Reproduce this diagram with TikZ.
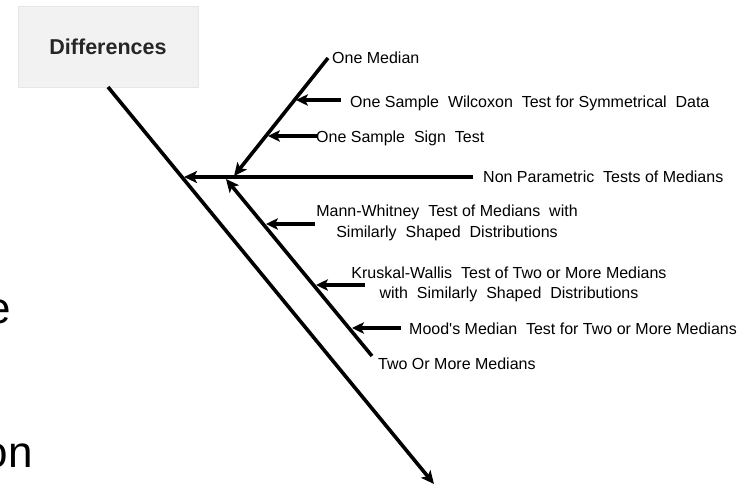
\documentclass[tikz,border=0pt]{standalone}
\usepackage{fontspec}
\setmainfont{Liberation Sans}
\usetikzlibrary{arrows.meta}
\definecolor{boxgray}{HTML}{F2F2F2}
\definecolor{boxedge}{HTML}{E6E6E6}
\tikzset{
  bone/.style={line width=3.6pt, -{Stealth[length=13pt,width=12pt,inset=3pt]}},
  twig/.style={line width=3.6pt, -{Stealth[length=12pt,width=11.5pt,inset=3pt]}},
  lbl/.style={font=\fontsize{16}{20.5}\selectfont, inner sep=0pt},
  twolbl/.style={lbl, align=center},
  big/.style={font=\fontsize{44}{50}\selectfont, inner sep=0pt},
}
\begin{document}
\begin{tikzpicture}[x=1pt,y=-1pt]
\useasboundingbox (0,0) rectangle (751,485);

% head box
\node[fill=boxgray, draw=boxedge, line width=0.6pt, minimum width=180pt, minimum height=81pt,
      font=\fontsize{21.5}{24}\selectfont\bfseries, text=black!85] (diff) at (108,46.5) {Differences};

% fragments of large text at the left edge
\node[big, anchor=base east] (frag1) at (11,323) {e};
\node[big, anchor=base east] (frag2) at (33,467) {on};

% main spine
\coordinate (spineTop) at (108,87);
\coordinate (spineEnd) at (434,484);
\draw[bone] (spineTop) -- (spineEnd);

% horizontal bone into the spine
\coordinate (npStart) at (473,177);
\coordinate (npTip) at (184,177);
\draw[bone] (npStart) -- (npTip);
\node[lbl, anchor=base west] (np) at (483,182) {Non Parametric\ \ Tests of Medians};

% one median branch
\coordinate (omTop) at (328,58);
\coordinate (omTip) at (234,176);
\draw[bone] (omTop) -- (omTip);
\node[lbl, anchor=base west] (om) at (332,63) {One Median};

\coordinate (wxStart) at (341,100);
\coordinate (wxTip) at (296,100);
\draw[twig] (wxStart) -- (wxTip);
\node[lbl, anchor=base west] (wx) at (350,107) {One Sample\ \ Wilcoxon\ \ Test for Symmetrical\ \ Data};

\coordinate (stStart) at (317,136);
\coordinate (stTip) at (268,136);
\draw[twig] (stStart) -- (stTip);
\node[lbl, anchor=base west] (st) at (316,142) {One Sample\ \ Sign\ \ Test};

% two or more medians branch
\coordinate (tmEnd) at (372,356);
\coordinate (tmTip) at (226,179);
\draw[bone] (tmEnd) -- (tmTip);
\node[lbl, anchor=base west] (tm) at (378,369) {Two Or More Medians};

\coordinate (mwStart) at (315,224);
\coordinate (mwTip) at (266,224);
\draw[twig] (mwStart) -- (mwTip);
\node[twolbl] (mw) at (447,223) {Mann-Whitney\ \ Test of Medians\ \ with\\Similarly\ \ Shaped\ \ Distributions};

\coordinate (kwStart) at (365,285);
\coordinate (kwTip) at (316,285);
\draw[twig] (kwStart) -- (kwTip);
\node[twolbl] (kw) at (509,284.5) {Kruskal-Wallis\ \ Test of Two or More Medians\\with\ \ Similarly\ \ Shaped\ \ Distributions};

\coordinate (mdStart) at (401,328);
\coordinate (mdTip) at (352,328);
\draw[twig] (mdStart) -- (mdTip);
\node[lbl, anchor=base west] (md) at (409,334) {Mood\textquotesingle s Median\ \ Test for Two or More Medians};
\end{tikzpicture}
\end{document}
